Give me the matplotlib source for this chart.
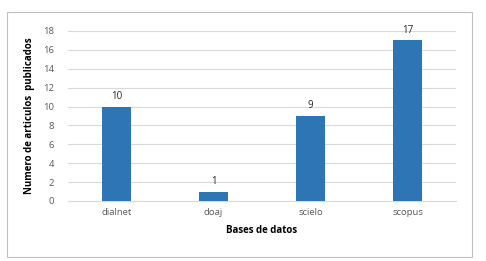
import matplotlib
matplotlib.use("Agg")
import matplotlib.pyplot as plt
from matplotlib.patches import Rectangle

categories = ["dialnet", "doaj", "scielo", "scopus"]
values = [10, 1, 9, 17]
yticks = [0, 2, 4, 6, 8, 10, 12, 14, 16, 18]

plt.rcParams['font.family'] = ['Open Sans', 'DejaVu Sans']

fig = plt.figure(figsize=(4.86, 2.61), dpi=100)
fig.patch.set_facecolor("white")
fig.add_artist(Rectangle((7/486, 1 - 257/261), 465/486, 245/261,
                         transform=fig.transFigure, fill=False,
                         edgecolor="#BFBFBF", linewidth=0.8))

ax = fig.add_axes([68/486, 1 - 201/261, 388/486, 170/261])
x = range(len(categories))
ax.bar(x, values, width=0.3, color="#2E75B6", zorder=3)
for xi, v in zip(x, values):
    ax.text(xi, v + 0.5, str(v), ha="center", va="bottom", fontsize=7, color="#262626")

ax.set_xlim(-0.5, 3.5)
ax.set_ylim(0, 18)
ax.set_yticks(yticks)
ax.set_xticks(list(x))
ax.set_xticklabels(categories)
ax.grid(axis="y", color="#D9D9D9", linewidth=0.8, zorder=0)
for s in ["top", "right", "left"]:
    ax.spines[s].set_visible(False)
ax.spines["bottom"].set_color("#D9D9D9")
ax.tick_params(axis="both", length=0, labelsize=6.8, labelcolor="#595959")
ax.tick_params(axis="x", pad=5)
ax.tick_params(axis="y", pad=10)
ax.set_xlabel("Bases de datos", fontsize=7, fontweight="bold", labelpad=6)
ax.set_ylabel("Numero de articulos  publicados", fontsize=7, fontweight="bold", labelpad=6)

fig.savefig("out.png", dpi=100)
